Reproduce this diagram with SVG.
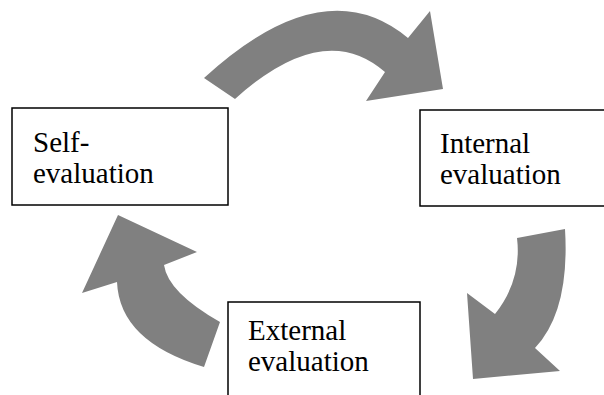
<svg xmlns="http://www.w3.org/2000/svg" width="604" height="395" viewBox="0 0 604 395">
<style>
.box{fill:#fff;stroke:#000;stroke-width:1.5}
.lbl{font-family:'Liberation Serif','Times New Roman',serif;font-size:29px;fill:#000}
.arr{fill:#808080;stroke:none}
</style>
<rect width="604" height="395" fill="#fff"/>
<g id="connectors">
<path class="arr" d="M204,78 Q324,-32 408,38 L430,11 L443,89 L366,101 L385,72 Q324,18.5 235,99 Z"/>
<path class="arr" d="M565,229 Q570,311 535,348 L560,371 L473,379 L467,293 L495,314 Q522,280 517,238 Z"/>
<path class="arr" d="M204,367 Q119.5,341.5 117,282 L82,293 L118,215 L197,252 L164,265 Q168,292.5 220,322 Z"/>
</g>
<g id="self-evaluation">
<rect class="box" x="12" y="108" width="216" height="97"/>
<text class="lbl" x="33" y="152">Self-</text>
<text class="lbl" x="33" y="183">evaluation</text>
</g>
<g id="internal-evaluation">
<rect class="box" x="420" y="110" width="200" height="96"/>
<text class="lbl" x="440" y="153">Internal</text>
<text class="lbl" x="440" y="184">evaluation</text>
</g>
<g id="external-evaluation">
<rect class="box" x="228" y="302" width="192" height="110"/>
<text class="lbl" x="248" y="340">External</text>
<text class="lbl" x="248" y="371">evaluation</text>
</g>
</svg>
